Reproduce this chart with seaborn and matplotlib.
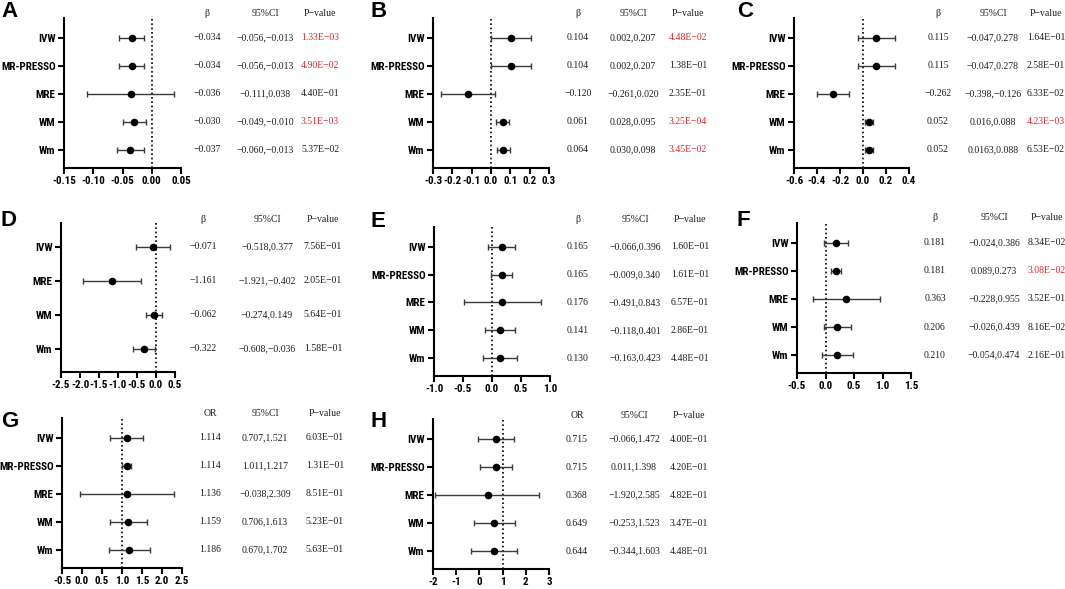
import os
import numpy as np
import pandas as pd
import matplotlib
matplotlib.use("Agg")
import matplotlib.pyplot as plt
import seaborn as sns
from matplotlib import font_manager
from matplotlib.font_manager import FontProperties
from matplotlib.transforms import blended_transform_factory

sns.set_theme(style="ticks")
plt.rcParams['font.family'] = ['Liberation Sans', 'DejaVu Sans']
plt.rcParams['axes.unicode_minus'] = False

# ---------------- data ----------------
methods5 = ["IVW", "MR-PRESSO", "MRE", "WM", "Wm"]
methods4 = ["IVW", "MRE", "WM", "Wm"]

A_est = [-0.034, -0.034, -0.036, -0.030, -0.037]
A_lo = [-0.056, -0.056, -0.111, -0.049, -0.060]
A_hi = [-0.013, -0.013, 0.038, -0.010, -0.013]
A_p = ["1.33E-03", "4.90E-02", "4.40E-01", "3.51E-03", "5.37E-02"]
A_sig = [True, True, False, True, False]
A_ticks = [-0.15, -0.10, -0.05, 0.00, 0.05]
A_ticklabels = ["-0.15", "-0.10", "-0.05", "0.00", "0.05"]

B_est = [0.104, 0.104, -0.120, 0.061, 0.064]
B_lo = [0.002, 0.002, -0.261, 0.028, 0.030]
B_hi = [0.207, 0.207, 0.020, 0.095, 0.098]
B_p = ["4.48E-02", "1.38E-01", "2.35E-01", "3.25E-04", "3.45E-02"]
B_sig = [True, False, False, True, True]
B_ticks = [-0.3, -0.2, -0.1, 0.0, 0.1, 0.2, 0.3]
B_ticklabels = ["-0.3", "-0.2", "-0.1", "0.0", "0.1", "0.2", "0.3"]

C_est = [0.115, 0.115, -0.262, 0.052, 0.052]
C_lo = [-0.047, -0.047, -0.398, 0.016, 0.0163]
C_hi = [0.278, 0.278, -0.126, 0.088, 0.088]
C_p = ["1.64E-01", "2.58E-01", "6.33E-02", "4.23E-03", "6.53E-02"]
C_sig = [False, False, False, True, False]
C_ticks = [-0.6, -0.4, -0.2, 0.0, 0.2, 0.4]
C_ticklabels = ["-0.6", "-0.4", "-0.2", "0.0", "0.2", "0.4"]

D_est = [-0.071, -1.161, -0.062, -0.322]
D_lo = [-0.518, -1.921, -0.274, -0.608]
D_hi = [0.377, -0.402, 0.149, -0.036]
D_p = ["7.56E-01", "2.05E-01", "5.64E-01", "1.58E-01"]
D_sig = [False, False, False, False]
D_ticks = [-2.5, -2.0, -1.5, -1.0, -0.5, 0.0, 0.5]
D_ticklabels = ["-2.5", "-2.0", "-1.5", "-1.0", "-0.5", "0.0", "0.5"]

E_est = [0.165, 0.165, 0.176, 0.141, 0.130]
E_lo = [-0.066, -0.009, -0.491, -0.118, -0.163]
E_hi = [0.396, 0.340, 0.843, 0.401, 0.423]
E_p = ["1.60E-01", "1.61E-01", "6.57E-01", "2.86E-01", "4.48E-01"]
E_sig = [False, False, False, False, False]
E_ticks = [-1.0, -0.5, 0.0, 0.5, 1.0]
E_ticklabels = ["-1.0", "-0.5", "0.0", "0.5", "1.0"]

F_est = [0.181, 0.181, 0.363, 0.206, 0.210]
F_lo = [-0.024, 0.089, -0.228, -0.026, -0.054]
F_hi = [0.386, 0.273, 0.955, 0.439, 0.474]
F_p = ["8.34E-02", "3.08E-02", "3.52E-01", "8.16E-02", "2.16E-01"]
F_sig = [False, True, False, False, False]
F_ticks = [-0.5, 0.0, 0.5, 1.0, 1.5]
F_ticklabels = ["-0.5", "0.0", "0.5", "1.0", "1.5"]

G_est = [1.114, 1.114, 1.136, 1.159, 1.186]
G_lo = [0.707, 1.011, -0.038, 0.706, 0.670]
G_hi = [1.521, 1.217, 2.309, 1.613, 1.702]
G_p = ["6.03E-01", "1.31E-01", "8.51E-01", "5.23E-01", "5.63E-01"]
G_sig = [False, False, False, False, False]
G_ticks = [-0.5, 0.0, 0.5, 1.0, 1.5, 2.0, 2.5]
G_ticklabels = ["-0.5", "0.0", "0.5", "1.0", "1.5", "2.0", "2.5"]

H_est = [0.715, 0.715, 0.368, 0.649, 0.644]
H_lo = [-0.066, 0.011, -1.920, -0.253, -0.344]
H_hi = [1.472, 1.398, 2.585, 1.523, 1.603]
H_p = ["4.00E-01", "4.20E-01", "4.82E-01", "3.47E-01", "4.48E-01"]
H_sig = [False, False, False, False, False]
H_ticks = [-2, -1, 0, 1, 2, 3]
H_ticklabels = ["-2", "-1", "0", "1", "2", "3"]

# ---------------- layout (pixels) ----------------
W, H = 1065, 589
panels = [
    ("A", methods5, A_est, A_lo, A_hi, A_p, A_sig, A_ticks, A_ticklabels, 0, "β", (64, 181, 18, 168), (207, 265, 320), 13, (1, 1)),
    ("B", methods5, B_est, B_lo, B_hi, B_p, B_sig, B_ticks, B_ticklabels, 0, "β", (433, 549, 18, 168), (578, 633, 688), 13, (371, 1)),
    ("C", methods5, C_est, C_lo, C_hi, C_p, C_sig, C_ticks, C_ticklabels, 0, "β", (794, 909, 18, 168), (938, 993, 1046), 13, (737, 1)),
    ("D", methods4, D_est, D_lo, D_hi, D_p, D_sig, D_ticks, D_ticklabels, 0, "β", (61, 175, 223, 372), (203, 267, 323), 220, (1, 210)),
    ("E", methods5, E_est, E_lo, E_hi, E_p, E_sig, E_ticks, E_ticklabels, 0, "β", (434, 550, 227, 376), (578, 635, 690), 220, (371, 211)),
    ("F", methods5, F_est, F_lo, F_hi, F_p, F_sig, F_ticks, F_ticklabels, 0, "β", (797, 911, 223, 373), (935, 994, 1047), 218, (737, 210)),
    ("G", methods5, G_est, G_lo, G_hi, G_p, G_sig, G_ticks, G_ticklabels, 1, "OR", (62, 182, 418, 568), (210, 265, 325), 414, (1, 411)),
    ("H", methods5, H_est, H_lo, H_hi, H_p, H_sig, H_ticks, H_ticklabels, 1, "OR", (433, 549, 419, 569), (577, 634, 689), 415, (371, 411)),
]


# ---------------- fonts: look for a condensed bold sans ----------------
def find_font(prefs, must, avoid):
    files = [f.fname for f in font_manager.fontManager.ttflist]
    base = {os.path.basename(p).lower(): p for p in files}
    for pref in prefs:
        for k, p in base.items():
            if k.startswith(pref):
                return p
    for k, p in base.items():
        if all(m in k for m in must) and not any(a in k for a in avoid):
            return p
    return None


sans_file = find_font(
    ["liberationsansnarrow-bold.", "arialnarrow-bold", "arialnb", "robotocondensed-bold.",
     "notosans-condensedbold.", "opensans-condbold", "opensans_condensed-bold.",
     "dejavusanscondensed-bold.", "notosans-semicondensedbold."],
    ["cond", "bold"], ["italic", "extra", "semi", "oblique", "mono", "cjk", "serif"])
if sans_file:
    TICK_FP = FontProperties(fname=sans_file, size=7.9)
else:
    TICK_FP = FontProperties(family=["Liberation Sans"], weight="bold", size=7.0)

TBL_FP = FontProperties(family=["Liberation Serif", "DejaVu Serif"], size=7.0)


def fmt(v):
    s = format(v, ".3f") if round(v, 3) == v else str(v)
    return s.replace("-", "\u2212")


fig = plt.figure(figsize=(W / 100, H / 100), dpi=100)
fig.patch.set_facecolor("white")

RED = "#e3262b"
TXT = "#1e1e1e"

for (letter, methods, est, lo, hi, pv, sig, ticks, tlabels, null, hdr,
     box, cols, hy, lxy) in panels:
    l, r, t, b = box
    ax = fig.add_axes([l / W, 1 - b / H, (r - l) / W, (b - t) / H])
    n = len(methods)
    df = pd.DataFrame({"method": methods, "est": est, "lo": lo, "hi": hi,
                       "pos": np.arange(n)})
    ax.errorbar(df["est"], df["pos"],
                xerr=[df["est"] - df["lo"], df["hi"] - df["est"]],
                fmt="none", ecolor="#3a3a3a", elinewidth=1.0,
                capsize=2.4, capthick=1.0, zorder=2, clip_on=False)
    sns.scatterplot(data=df, x="est", y="pos", ax=ax, color="black", s=30,
                    linewidth=0, zorder=3, legend=False, clip_on=False)
    ax.axvline(null, color="black", lw=1.2, ls=(0, (1, 1.6)), zorder=1)

    if n == 5:
        ax.set_ylim(4 + 18 / 28, -20 / 28)
    else:
        ax.set_ylim(3 + 23 / 34, -24 / 34)
    ax.set_xlim(ticks[0], ticks[-1])
    ax.set_xticks(ticks)
    ax.set_xticklabels(tlabels)
    ax.set_yticks(df["pos"])
    ax.set_yticklabels(methods)
    ax.set_xlabel("")
    ax.set_ylabel("")
    for s in ("top", "right"):
        ax.spines[s].set_visible(False)
    for s in ("left", "bottom"):
        ax.spines[s].set_linewidth(1.5)
        ax.spines[s].set_color("black")
    ax.tick_params(axis="both", direction="out", length=4.5, width=1.5,
                   pad=1.5, colors="black")
    for lab in ax.get_xticklabels() + ax.get_yticklabels():
        lab.set_fontproperties(TICK_FP)
        if not sans_file:
            lab.set_fontweight("bold")
    ax.set_facecolor("none")

    # table
    tr = blended_transform_factory(fig.transFigure, ax.transData)
    for i in range(n):
        fig.text(cols[0] / W, df["pos"][i], fmt(est[i]), transform=tr,
                 ha="center", va="center", color=TXT, fontproperties=TBL_FP)
        fig.text(cols[1] / W, df["pos"][i], fmt(lo[i]) + "," + fmt(hi[i]),
                 transform=tr, ha="center", va="center", color=TXT,
                 fontproperties=TBL_FP)
        fig.text(cols[2] / W, df["pos"][i], pv[i].replace("-", "\u2212"),
                 transform=tr, ha="center", va="center",
                 color=RED if sig[i] else TXT, fontproperties=TBL_FP)
    for x, h in zip(cols, [hdr, "95%CI", "P\u2212value"]):
        fig.text(x / W, 1 - hy / H, h, ha="center", va="center", color=TXT,
                 fontproperties=TBL_FP)
    fig.text(lxy[0] / W, 1 - lxy[1] / H, letter, ha="left", va="top",
             fontsize=16, fontweight="bold", color="black",
             family=["Liberation Sans", "DejaVu Sans"])

fig.savefig("out.png", dpi=100, facecolor="white")
